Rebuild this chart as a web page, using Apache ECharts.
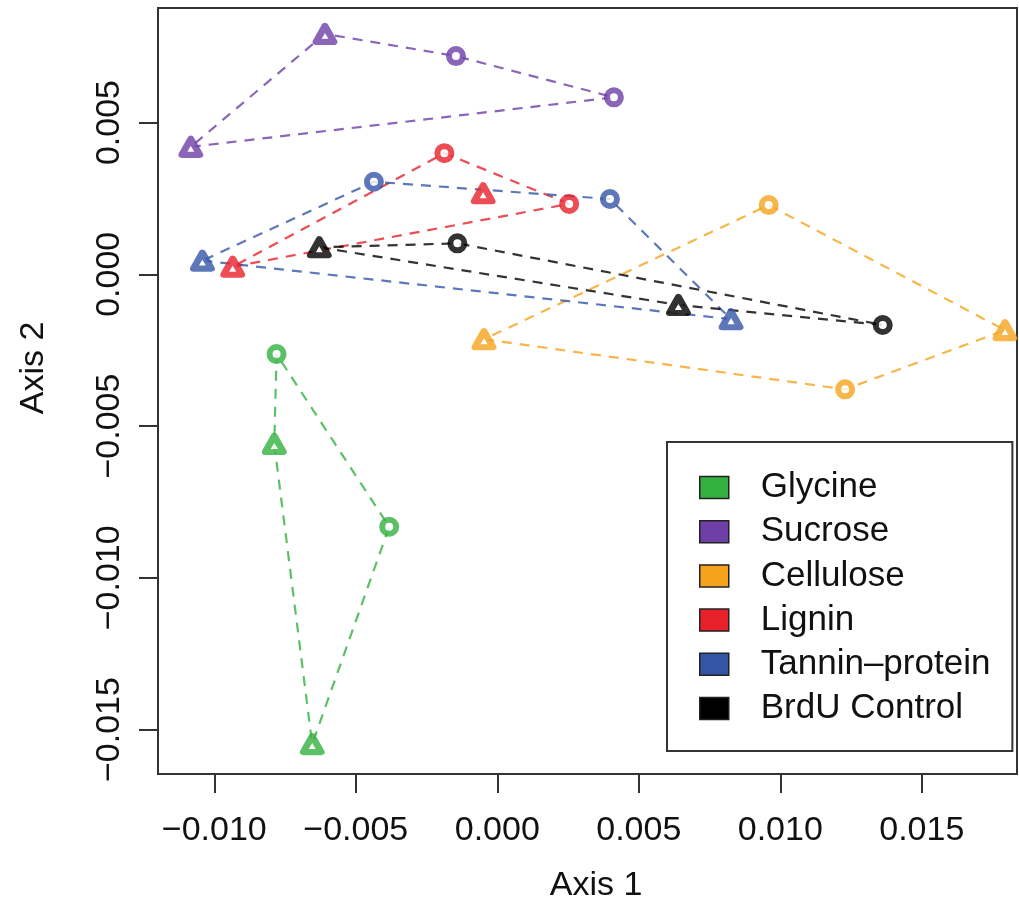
<!DOCTYPE html>
<html>
<head>
<meta charset="utf-8">
<script src="https://cdn.jsdelivr.net/npm/echarts@6/dist/echarts.min.js"></script>
<style>
  html, body { margin: 0; padding: 0; background: #fff; }
  #chart { width: 1019px; height: 900px; }
</style>
</head>
<body>
<div id="chart"></div>
<script>
// tick values of both axes
const xTicks = [-0.010, -0.005, 0.000, 0.005, 0.010, 0.015];
const yTicks = [-0.015, -0.010, -0.005, 0.000, 0.005];

// legend names
const groupNames = ["Glycine", "Sucrose", "Cellulose", "Lignin", "Tannin\u2013protein", "BrdU Control"];

// points [axis1, axis2], circles and triangles per group
const glycineCircles = [[-0.00780, -0.00263], [-0.00382, -0.00832]];
const glycineTriangles = [[-0.00788, -0.00559], [-0.00654, -0.01548]];
const sucroseCircles = [[-0.00146, 0.00719], [0.00412, 0.00583]];
const sucroseTriangles = [[-0.00609, 0.00792], [-0.01083, 0.00420]];
const celluloseCircles = [[0.00959, 0.00228], [0.01229, -0.00379]];
const celluloseTriangles = [[-0.00047, -0.00214], [0.01794, -0.00184]];
const ligninCircles = [[-0.00187, 0.00399], [0.00254, 0.00232]];
const ligninTriangles = [[-0.00935, 0.00025], [-0.00050, 0.00267]];
const tanninCircles = [[-0.00436, 0.00305], [0.00398, 0.00248]];
const tanninTriangles = [[-0.01042, 0.00045], [0.00826, -0.00148]];
const brduCircles = [[-0.00141, 0.00102], [0.01362, -0.00167]];
const brduTriangles = [[-0.00629, 0.00089], [0.00640, -0.00101]];

const groupColors = ["#33b040", "#6e3fa6", "#f5a31d", "#e8202a", "#3455a6", "#000000"];

const groups = [
  { circles: glycineCircles, triangles: glycineTriangles },
  { circles: sucroseCircles, triangles: sucroseTriangles },
  { circles: celluloseCircles, triangles: celluloseTriangles },
  { circles: ligninCircles, triangles: ligninTriangles },
  { circles: tanninCircles, triangles: tanninTriangles },
  { circles: brduCircles, triangles: brduTriangles },
];

// convex hull (monotone chain), returned closed
function hull(pts) {
  const p = pts.slice().sort((a, b) => a[0] - b[0] || a[1] - b[1]);
  const cross = (o, a, b) => (a[0] - o[0]) * (b[1] - o[1]) - (a[1] - o[1]) * (b[0] - o[0]);
  const lower = [], upper = [];
  for (const q of p) {
    while (lower.length >= 2 && cross(lower[lower.length - 2], lower[lower.length - 1], q) <= 0) lower.pop();
    lower.push(q);
  }
  for (let i = p.length - 1; i >= 0; i--) {
    const q = p[i];
    while (upper.length >= 2 && cross(upper[upper.length - 2], upper[upper.length - 1], q) <= 0) upper.pop();
    upper.push(q);
  }
  const h = lower.slice(0, -1).concat(upper.slice(0, -1));
  h.push(h[0]);
  return h;
}

const fontFamily = "'Liberation Sans', Arial, Helvetica, sans-serif";
const fmt = v => v.toFixed(3).replace("-", "\u2212");

let series = [];
groups.forEach((g, i) => {
  series.push({
    name: groupNames[i],
    type: "line",
    data: hull(g.circles.concat(g.triangles)),
    symbol: "none",
    silent: true,
    z: 2,
    lineStyle: { color: groupColors[i], width: 2.2, type: [10, 8], opacity: 0.8 },
  });
});
groups.forEach((g, i) => {
  series.push({
    name: groupNames[i],
    type: "scatter",
    data: g.circles,
    symbol: "circle",
    symbolSize: 14,
    z: 4,
    itemStyle: { color: "#fff", borderColor: groupColors[i], borderWidth: 6 },
  });
  series.push({
    name: groupNames[i],
    type: "scatter",
    data: g.triangles,
    symbol: "triangle",
    symbolSize: [18, 16],
    z: 4,
    itemStyle: { color: "#fff", borderColor: groupColors[i], borderWidth: 6.5, borderJoin: "round" },
  });
});

let chart = echarts.init(document.getElementById("chart"));
chart.setOption({
  animation: false,
  backgroundColor: "#fff",
  grid: {
    left: 158,
    top: 8,
    right: 2,
    bottom: 126,
    show: true,
    borderColor: "#333",
    borderWidth: 2,
  },
  xAxis: {
    type: "value",
    min: -0.011989,
    max: 0.018364,
    axisLine: { show: true, onZero: false, lineStyle: { color: "#333", width: 2 } },
    axisTick: { show: true, customValues: xTicks, length: 19, lineStyle: { color: "#333", width: 2 } },
    axisLabel: {
      customValues: xTicks,
      formatter: fmt,
      margin: 40,
      color: "#111",
      fontSize: 34,
      fontFamily: fontFamily,
    },
    splitLine: { show: false },
  },
  yAxis: {
    type: "value",
    min: -0.016465,
    max: 0.008774,
    axisLine: { show: true, onZero: false, lineStyle: { color: "#333", width: 2 } },
    axisTick: { show: true, customValues: yTicks, length: 19, lineStyle: { color: "#333", width: 2 } },
    axisLabel: {
      customValues: yTicks,
      formatter: fmt,
      rotate: 90,
      margin: 31,
      color: "#111",
      fontSize: 34,
      fontFamily: fontFamily,
    },
    splitLine: { show: false },
  },
  legend: {
    orient: "vertical",
    left: 667,
    top: 442,
    padding: [28, 22, 25, 32],
    itemWidth: 29,
    itemHeight: 22,
    itemGap: 9.2,
    selectedMode: false,
    borderColor: "#333",
    borderWidth: 2,
    backgroundColor: "#fff",
    textStyle: {
      fontSize: 35,
      lineHeight: 34,
      color: "#111",
      fontFamily: fontFamily,
      padding: [0, 0, 0, 27],
    },
    data: groupNames.map((n, i) => ({
      name: n,
      icon: "rect",
      itemStyle: { color: groupColors[i], borderColor: "#222", borderWidth: 1.5 },
    })),
  },
  graphic: [
    {
      type: "text",
      x: 596,
      y: 886,
      style: { text: "Axis 1", font: "34px " + fontFamily, fill: "#111", align: "center", verticalAlign: "middle" },
    },
    {
      type: "text",
      x: 34,
      y: 368,
      rotation: Math.PI / 2,
      style: { text: "Axis 2", font: "34px " + fontFamily, fill: "#111", align: "center", verticalAlign: "middle" },
    },
  ],
  series: series,
});
</script>
</body>
</html>
